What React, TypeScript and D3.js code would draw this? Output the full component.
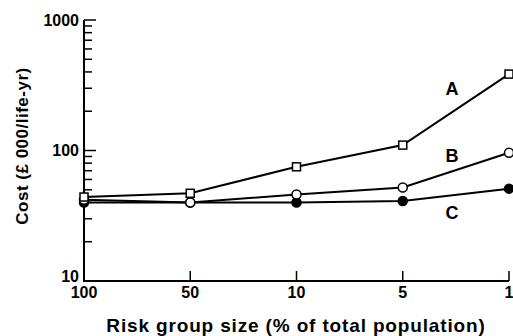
import { useEffect, useRef } from 'react';
import * as d3 from 'd3';

// risk group size categories (% of total population)
const groupSizes = ['100', '50', '10', '5', '1'];

// cost, £000 per life-year
const seriesA = [44, 47, 75, 110, 385];
const seriesB = [42, 40, 46, 52, 96];
const seriesC = [40, 40, 40, 41, 51];

const seriesNames = ['A', 'B', 'C'];
const seriesMarkers = ['square', 'open', 'filled'];

const yTicks = [10, 100, 1000];

export default function App() {
  const svgRef = useRef<SVGSVGElement | null>(null);

  useEffect(() => {
    if (!svgRef.current) return;
    const svg = d3.select(svgRef.current);
    svg.selectAll('*').remove();

    const W = 513;
    const H = 336;
    const margin = { top: 20, right: 4, bottom: 55, left: 84 };
    const font = '"Liberation Sans", Arial, Helvetica, sans-serif';

    const x = d3.scalePoint<string>()
      .domain(groupSizes)
      .range([margin.left, W - margin.right]);

    const y = d3.scaleLog()
      .domain([10, 1000])
      .range([H - margin.bottom, margin.top]);

    const g = svg.append('g');

    // minor log ticks on the y axis
    const minor: number[] = [];
    for (const base of [10, 100]) {
      for (let k = 2; k <= 9; k++) minor.push(base * k);
    }
    g.selectAll('.minor')
      .data(minor)
      .enter()
      .append('line')
      .attr('x1', margin.left)
      .attr('x2', margin.left + 8)
      .attr('y1', d => y(d))
      .attr('y2', d => y(d))
      .attr('stroke', '#000')
      .attr('stroke-width', 1.5);

    g.selectAll('.major')
      .data(yTicks)
      .enter()
      .append('line')
      .attr('x1', margin.left)
      .attr('x2', margin.left + 12)
      .attr('y1', d => y(d))
      .attr('y2', d => y(d))
      .attr('stroke', '#000')
      .attr('stroke-width', 1.5);

    g.selectAll('.ylabel')
      .data(yTicks)
      .enter()
      .append('text')
      .attr('x', margin.left - 5)
      .attr('y', d => (d === 10 ? y(d) - 5 : y(d)))
      .attr('dy', '0.35em')
      .attr('text-anchor', 'end')
      .style('font-family', font)
      .style('font-weight', 'bold')
      .style('font-size', '16px')
      .text(d => d);

    // x axis ticks point upward
    g.selectAll('.xtick')
      .data(groupSizes)
      .enter()
      .append('line')
      .attr('x1', d => x(d)!)
      .attr('x2', d => x(d)!)
      .attr('y1', H - margin.bottom)
      .attr('y2', H - margin.bottom - 10)
      .attr('stroke', '#000')
      .attr('stroke-width', 1.5);

    g.selectAll('.xlabel')
      .data(groupSizes)
      .enter()
      .append('text')
      .attr('x', d => x(d)!)
      .attr('y', H - margin.bottom + 17)
      .attr('text-anchor', 'middle')
      .style('font-family', font)
      .style('font-weight', 'bold')
      .style('font-size', '16px')
      .text(d => d);

    // axis lines
    g.append('path')
      .attr('d', `M${margin.left},${margin.top}V${H - margin.bottom}H${W - margin.right}`)
      .attr('fill', 'none')
      .attr('stroke', '#000')
      .attr('stroke-width', 2);

    // axis titles
    svg.append('text')
      .attr('x', 296)
      .attr('y', 332)
      .attr('text-anchor', 'middle')
      .style('font-family', font)
      .style('font-weight', 'bold')
      .style('font-size', '19px')
      .style('letter-spacing', '0.85px')
      .text('Risk group size (% of total population)');

    svg.append('text')
      .attr('transform', 'translate(28,146) rotate(-90)')
      .attr('text-anchor', 'middle')
      .style('font-family', font)
      .style('font-weight', 'bold')
      .style('font-size', '17px')
      .style('letter-spacing', '0.5px')
      .text('Cost (£ 000/life-yr)');

    const line = d3.line<number>()
      .x((d, i) => x(groupSizes[i])!)
      .y(d => y(d));

    const allSeries = [seriesA, seriesB, seriesC];

    allSeries.forEach(vals => {
      g.append('path')
        .datum(vals)
        .attr('d', line)
        .attr('fill', 'none')
        .attr('stroke', '#000')
        .attr('stroke-width', 2);
    });

    // markers drawn after lines; C first so open markers sit on top
    [2, 1, 0].forEach(si => {
      const vals = allSeries[si];
      const kind = seriesMarkers[si];
      if (kind === 'square') {
        g.selectAll(`.m${si}`)
          .data(vals)
          .enter()
          .append('rect')
          .attr('x', (d, i) => x(groupSizes[i])! - 4)
          .attr('y', d => y(d) - 4)
          .attr('width', 8)
          .attr('height', 8)
          .attr('fill', '#fff')
          .attr('stroke', '#000')
          .attr('stroke-width', 1.5);
      } else {
        g.selectAll(`.m${si}`)
          .data(vals)
          .enter()
          .append('circle')
          .attr('cx', (d, i) => x(groupSizes[i])!)
          .attr('cy', d => y(d))
          .attr('r', 4.5)
          .attr('fill', kind === 'filled' ? '#000' : '#fff')
          .attr('stroke', '#000')
          .attr('stroke-width', 1.5);
      }
    });

    // series labels next to the right-hand end
    const labelVals = [300, 91, 33.5];
    g.selectAll('.slabel')
      .data(seriesNames)
      .enter()
      .append('text')
      .attr('x', 452)
      .attr('y', (d, i) => y(labelVals[i]))
      .attr('dy', '0.35em')
      .attr('text-anchor', 'middle')
      .style('font-family', font)
      .style('font-weight', 'bold')
      .style('font-size', '18px')
      .text(d => d);
  }, []);

  return (
    <svg
      ref={svgRef}
      width={513}
      height={336}
      style={{ position: 'absolute', left: 0, top: 0, background: '#fff' }}
    />
  );
}
